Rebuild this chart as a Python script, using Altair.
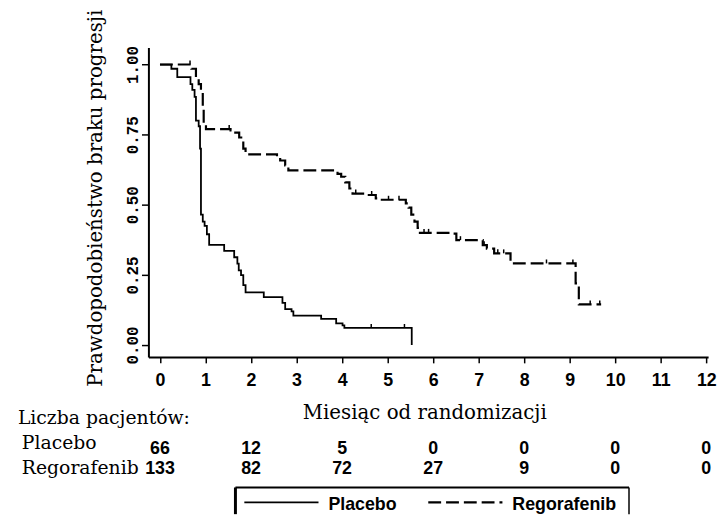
import altair as alt
import pandas as pd

# Kaplan-Meier curves (time in months, probability without progression)
pl_t = [0, 0.25, 0.38, 0.67, 0.71, 0.76, 0.79, 0.85, 0.88, 0.90, 0.94, 0.98, 1.03, 1.08, 1.41, 1.63, 1.70, 1.73,
        1.78, 1.83, 1.88, 2.28, 2.69, 2.75, 2.89, 2.93, 3.54, 3.87, 4.01, 4.05, 5.53]
pl_s = [1.0, 0.985, 0.955, 0.93, 0.91, 0.885, 0.80, 0.78, 0.70, 0.465, 0.44, 0.425, 0.395, 0.357, 0.336, 0.313, 0.29,
        0.266, 0.249, 0.214, 0.188, 0.171, 0.15, 0.128, 0.12, 0.105, 0.093, 0.077, 0.07, 0.061, 0.0]
rg_t = [0, 0.69, 0.79, 0.85, 0.90, 0.94, 0.96, 1.01, 1.55, 1.63, 1.74, 1.83, 1.88, 2.57, 2.64, 2.75, 2.82, 3.90, 3.98,
        4.07, 4.16, 4.23, 4.55, 4.74, 4.84, 5.40, 5.46, 5.52, 5.59, 5.66, 5.71, 6.43, 6.51, 7.09, 7.18, 7.34, 7.70,
        9.13, 9.20, 9.69]
rg_s = [1.0, 0.985, 0.955, 0.93, 0.90, 0.84, 0.785, 0.77, 0.765, 0.757, 0.74, 0.70, 0.68, 0.67, 0.658, 0.64, 0.623,
        0.61, 0.60, 0.58, 0.558, 0.54, 0.535, 0.523, 0.518, 0.505, 0.49, 0.465, 0.44, 0.418, 0.40, 0.397, 0.374,
        0.356, 0.344, 0.327, 0.291, 0.22, 0.145, 0.145]

# censoring marks
pl_cens_t = [4.64, 5.37]
pl_cens_s = [0.061, 0.061]
rg_cens_t = [0.66, 1.52, 4.30, 4.65, 5.02, 5.25, 5.80, 5.90, 6.60, 7.12, 7.42, 7.55, 8.49, 9.07, 9.45, 9.66]
rg_cens_s = [1.0, 0.77, 0.54, 0.535, 0.518, 0.518, 0.40, 0.40, 0.374, 0.356, 0.327, 0.327, 0.291, 0.291, 0.145, 0.145]

# number at risk
risk_months = [0, 2, 4, 6, 8, 10, 12]
risk_placebo = [66, 12, 5, 0, 0, 0, 0]
risk_rego = [133, 82, 72, 27, 9, 0, 0]

groups = ["Placebo", "Regorafenib"]
x_ticks = list(range(13))
y_ticks = [0, 0.25, 0.5, 0.75, 1.0]

W, H = 566, 313
xs = alt.Scale(domain=[-0.254, 12.04], nice=False, zero=False)
ys = alt.Scale(domain=[-0.0423, 1.061], nice=False, zero=False)

x_axis = alt.Axis(
    values=x_ticks, title="Miesiąc od randomizacji", grid=False,
    domainColor="black", domainWidth=2, tickColor="black", tickWidth=1.5, tickSize=6,
    labelFont="Liberation Sans", labelFontWeight="bold", labelFontSize=18, labelColor="black",
    labelPadding=9, labelFlush=False,
    titleFont="DejaVu Serif", titleFontWeight="normal", titleFontSize=20, titleColor="black",
    titleX=279, titleY=62, titleBaseline="alphabetic", titleAlign="center")
y_axis = alt.Axis(
    values=y_ticks, format=".2f", title="Prawdopodobieństwo braku progresji", grid=False,
    domainColor="black", domainWidth=2, tickColor="black", tickWidth=1.5, tickSize=7,
    labelFont="Liberation Mono", labelFontWeight="bold", labelFontSize=16, labelColor="black", labelAngle=270,
    labelAlign="center", labelBaseline="bottom", labelPadding=1, labelFlush=False,
    titleFont="DejaVu Serif", titleFontWeight="normal", titleFontSize=20, titleColor="black",
    titleAngle=270, titleX=-53, titleY=152, titleAlign="center", titleBaseline="middle")

curves = pd.concat([
    pd.DataFrame({"t": pl_t, "s": pl_s, "grupa": groups[0], "i": range(len(pl_t))}),
    pd.DataFrame({"t": rg_t, "s": rg_s, "grupa": groups[1], "i": range(len(rg_t))}),
])
cens = pd.concat([
    pd.DataFrame({"t": pl_cens_t, "s": pl_cens_s}),
    pd.DataFrame({"t": rg_cens_t, "s": rg_cens_s}),
])

lines = alt.Chart(curves).mark_line(interpolate="step-after", color="black").encode(
    x=alt.X("t:Q", scale=xs, axis=x_axis),
    y=alt.Y("s:Q", scale=ys, axis=y_axis),
    strokeDash=alt.StrokeDash("grupa:N", scale=alt.Scale(domain=groups, range=[[1, 0], [13, 5]]), legend=None),
    strokeWidth=alt.StrokeWidth("grupa:N", scale=alt.Scale(domain=groups, range=[1.8, 2.2]), legend=None),
    order="i:Q",
)

cens_marks = alt.Chart(cens).mark_point(shape="M0,-1L0,0", size=64, filled=False, color="black",
                                        strokeWidth=1.5, opacity=1).encode(
    x=alt.X("t:Q", scale=xs, axis=x_axis),
    y=alt.Y("s:Q", scale=ys, axis=y_axis),
)

risk_p = pd.DataFrame({"t": risk_months, "n": risk_placebo})
risk_r = pd.DataFrame({"t": risk_months, "n": risk_rego})
num_style = dict(font="Liberation Sans", fontWeight="bold", fontSize=18, color="black",
                 align="center", baseline="alphabetic")
risk_p_txt = alt.Chart(risk_p).mark_text(**num_style).encode(
    x=alt.X("t:Q", scale=xs, axis=x_axis), y=alt.value(411), text="n:Q")
risk_r_txt = alt.Chart(risk_r).mark_text(**num_style).encode(
    x=alt.X("t:Q", scale=xs, axis=x_axis), y=alt.value(431), text="n:Q")

row_labels = pd.DataFrame({"lab": ["Liczba pacjentów:", "Placebo", "Regorafenib"],
                           "xx": [-132, -128, -128], "yy": [381, 406, 431]})
row_txt = alt.Chart(row_labels).mark_text(font="DejaVu Serif", fontSize=19, color="black",
                                          align="left", baseline="alphabetic").encode(
    x=alt.X("xx:Q", scale=None), y=alt.Y("yy:Q", scale=None), text="lab:N")

# legend box (drawn in pixels, below plot)
box = pd.DataFrame({"x1": [88, 88, 486], "x2": [486, 88, 486], "y1": [445, 445, 445], "y2": [445, 472, 472],
                    "w": [2, 3, 1.5]})
box_rules = alt.Chart(box).mark_rule(color="black").encode(
    x=alt.X("x1:Q", scale=None), x2="x2:Q", y=alt.Y("y1:Q", scale=None), y2="y2:Q",
    strokeWidth=alt.StrokeWidth("w:Q", scale=None))

leg = pd.DataFrame({"grupa": groups, "x1": [97, 283], "x2": [172, 358], "y": [460, 460]})
leg_lines = alt.Chart(leg).mark_rule(color="black").encode(
    x=alt.X("x1:Q", scale=None), x2="x2:Q", y=alt.Y("y:Q", scale=None),
    strokeDash=alt.StrokeDash("grupa:N", scale=alt.Scale(domain=groups, range=[[1, 0], [7, 4]]), legend=None),
    strokeWidth=alt.StrokeWidth("grupa:N", scale=alt.Scale(domain=groups, range=[1.8, 1.6]), legend=None),
)
leg_txt_df = pd.DataFrame({"lab": groups, "xx": [182, 368], "yy": [468, 468]})
leg_txt = alt.Chart(leg_txt_df).mark_text(font="Liberation Sans", fontWeight="bold", fontSize=18, color="black",
                                          align="left", baseline="alphabetic").encode(
    x=alt.X("xx:Q", scale=None), y=alt.Y("yy:Q", scale=None), text="lab:N")

chart = alt.layer(lines, cens_marks, risk_p_txt, risk_r_txt, row_txt, box_rules, leg_lines, leg_txt).properties(
    width=W, height=H,
    padding={"left": 142, "top": 37, "right": 10, "bottom": 158},
    autosize=alt.AutoSizeParams(type="none"),
    background="white",
).configure_view(stroke=None)

chart.save("out.html", embed_options={"renderer": "svg", "actions": False})
